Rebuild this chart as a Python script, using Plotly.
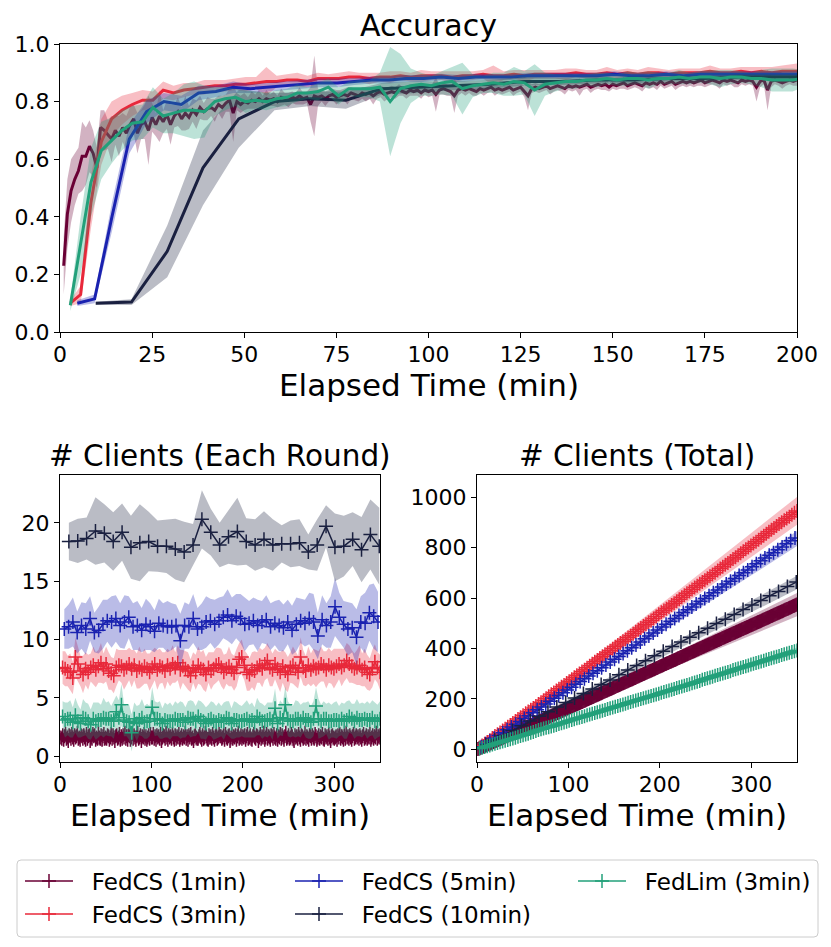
"""Accuracy and client counts over elapsed time for FedCS / FedLim."""

from itertools import accumulate

import plotly.graph_objects as go

FONT = "DejaVu Sans"
W, H = 831, 947
PAGE_PAD = 8  # the browser puts the figure 8px in from the page corner

NAMES = ["FedCS (1min)", "FedCS (3min)", "FedCS (5min)", "FedCS (10min)", "FedLim (3min)"]
COLORS = ["#6a0035", "#e8283a", "#1a22b0", "#1a2040", "#22a07a"]

# round times (min) for each method
X_1MIN = list(range(1, 351))
X_3MIN = [round(2.8 * k, 1) for k in range(1, 126)]
X_5MIN = [round(4.7 * k, 1) for k in range(1, 75)]
X_10MIN = [round(9.7 * k, 1) for k in range(1, 37)]

# ---- accuracy (mean / std over runs) ----
ACC_1MIN = [
    0.23, 0.41, 0.49, 0.53, 0.56, 0.61, 0.61, 0.645, 0.62, 0.57,
    0.71, 0.70, 0.685, 0.67, 0.70, 0.68, 0.71, 0.69, 0.72, 0.74,
    0.69, 0.72, 0.73, 0.70, 0.745, 0.72, 0.75, 0.73, 0.755, 0.72,
    0.75, 0.765, 0.74, 0.76, 0.745, 0.77, 0.755, 0.78, 0.765, 0.775,
    0.78, 0.77, 0.79, 0.78, 0.795, 0.805, 0.76, 0.80, 0.79, 0.80,
    0.795, 0.805, 0.80, 0.81, 0.80, 0.81, 0.805, 0.81, 0.80, 0.815,
    0.81, 0.805, 0.815, 0.81, 0.82, 0.81, 0.815, 0.79, 0.82, 0.815,
    0.82, 0.81, 0.82, 0.825, 0.815, 0.82, 0.825, 0.82, 0.83, 0.825,
    0.82, 0.83, 0.825, 0.83, 0.82, 0.83, 0.835, 0.825, 0.83, 0.835,
    0.83, 0.84, 0.835, 0.83, 0.84, 0.835, 0.84, 0.83, 0.84, 0.835,
    0.84, 0.825, 0.84, 0.845, 0.84, 0.835, 0.82, 0.84, 0.845, 0.84,
    0.845, 0.84, 0.835, 0.845, 0.84, 0.845, 0.85, 0.84, 0.845, 0.84,
    0.845, 0.85, 0.84, 0.845, 0.85, 0.835, 0.82, 0.845, 0.85, 0.845,
    0.85, 0.855, 0.845, 0.85, 0.855, 0.85, 0.845, 0.855, 0.85, 0.855,
    0.85, 0.855, 0.86, 0.85, 0.855, 0.86, 0.855, 0.86, 0.85, 0.86,
    0.855, 0.86, 0.865, 0.855, 0.86, 0.865, 0.86, 0.855, 0.865, 0.86,
    0.865, 0.86, 0.87, 0.86, 0.865, 0.87, 0.86, 0.865, 0.87, 0.865,
    0.87, 0.865, 0.87, 0.875, 0.865, 0.87, 0.875, 0.87, 0.865, 0.875,
    0.87, 0.875, 0.87, 0.865, 0.875, 0.87, 0.875, 0.87, 0.85, 0.87,
    0.875, 0.84, 0.87, 0.875, 0.87, 0.865, 0.87, 0.875, 0.87, 0.875,
]
ACC_1MIN_STD = [
    0.10, 0.12, 0.11, 0.09, 0.08, 0.12, 0.10, 0.09, 0.08, 0.07,
    0.06, 0.07, 0.05, 0.08, 0.05, 0.07, 0.05, 0.06, 0.06, 0.05,
    0.07, 0.05, 0.06, 0.12, 0.05, 0.04, 0.09, 0.04, 0.05, 0.07,
    0.04, 0.05, 0.04, 0.06, 0.04, 0.04, 0.05, 0.04, 0.03, 0.04,
    0.03, 0.04, 0.03, 0.04, 0.03, 0.04, 0.10, 0.03, 0.03, 0.03,
    0.02, 0.03, 0.025, 0.03, 0.02, 0.03, 0.02, 0.025, 0.02, 0.03,
    0.02, 0.025, 0.02, 0.02, 0.03, 0.02, 0.02, 0.06, 0.14, 0.03,
    0.02, 0.025, 0.02, 0.02, 0.025, 0.02, 0.02, 0.03, 0.02, 0.02,
    0.02, 0.02, 0.025, 0.02, 0.03, 0.02, 0.02, 0.025, 0.02, 0.02,
    0.02, 0.02, 0.015, 0.02, 0.02, 0.015, 0.02, 0.02, 0.015, 0.02,
    0.02, 0.06, 0.015, 0.02, 0.02, 0.015, 0.06, 0.02, 0.015, 0.02,
    0.015, 0.02, 0.015, 0.015, 0.02, 0.015, 0.015, 0.02, 0.015, 0.015,
    0.015, 0.015, 0.02, 0.015, 0.015, 0.02, 0.05, 0.015, 0.015, 0.015,
    0.015, 0.015, 0.02, 0.015, 0.015, 0.015, 0.02, 0.015, 0.015, 0.015,
    0.03, 0.015, 0.015, 0.02, 0.015, 0.015, 0.015, 0.02, 0.015, 0.015,
    0.015, 0.015, 0.02, 0.015, 0.015, 0.015, 0.015, 0.02, 0.015, 0.015,
    0.015, 0.02, 0.015, 0.015, 0.015, 0.015, 0.02, 0.015, 0.015, 0.015,
    0.015, 0.015, 0.015, 0.02, 0.015, 0.015, 0.015, 0.015, 0.02, 0.015,
    0.015, 0.015, 0.02, 0.015, 0.015, 0.015, 0.015, 0.015, 0.05, 0.02,
    0.015, 0.07, 0.02, 0.015, 0.015, 0.02, 0.015, 0.015, 0.015, 0.02,
]
ACC_3MIN = [
    0.10, 0.13, 0.45, 0.66, 0.74, 0.77, 0.79, 0.805, 0.805, 0.84,
    0.83, 0.84, 0.845, 0.85, 0.855, 0.855, 0.86, 0.86, 0.865, 0.87,
    0.87, 0.875, 0.875, 0.87, 0.88, 0.88, 0.88, 0.885, 0.885, 0.88,
    0.885, 0.885, 0.89, 0.885, 0.89, 0.89, 0.89, 0.885, 0.89, 0.89,
    0.895, 0.89, 0.89, 0.895, 0.89, 0.895, 0.895, 0.895, 0.895, 0.90,
    0.895, 0.895, 0.90, 0.895, 0.90, 0.895, 0.90, 0.90, 0.895, 0.90,
    0.90, 0.90, 0.905, 0.90, 0.90, 0.905, 0.90, 0.905, 0.90, 0.905,
    0.905, 0.905,
]
ACC_3MIN_STD = [
    0.01, 0.03, 0.09, 0.08, 0.06, 0.05, 0.04, 0.035, 0.03, 0.03,
    0.025, 0.025, 0.02, 0.025, 0.02, 0.02, 0.02, 0.025, 0.02, 0.05,
    0.02, 0.02, 0.025, 0.02, 0.02, 0.015, 0.02, 0.02, 0.015, 0.02,
    0.015, 0.02, 0.015, 0.015, 0.02, 0.015, 0.015, 0.02, 0.015, 0.015,
    0.015, 0.035, 0.015, 0.015, 0.02, 0.015, 0.015, 0.015, 0.02, 0.015,
    0.015, 0.015, 0.02, 0.015, 0.015, 0.015, 0.02, 0.015, 0.015, 0.015,
    0.015, 0.015, 0.02, 0.015, 0.015, 0.015, 0.02, 0.015, 0.02, 0.02,
    0.025, 0.03,
]
ACC_5MIN = [
    0.10, 0.115, 0.40, 0.67, 0.765, 0.80, 0.79, 0.83, 0.835, 0.85,
    0.845, 0.85, 0.855, 0.86, 0.865, 0.865, 0.87, 0.875, 0.875, 0.88,
    0.88, 0.885, 0.88, 0.885, 0.885, 0.885, 0.89, 0.89, 0.89, 0.89,
    0.89, 0.895, 0.89, 0.89, 0.895, 0.89, 0.895, 0.895, 0.895, 0.895,
    0.895, 0.895, 0.895, 0.895,
]
ACC_5MIN_STD = [
    0.01, 0.015, 0.05, 0.05, 0.04, 0.03, 0.03, 0.025, 0.02, 0.02,
    0.015, 0.015, 0.015, 0.015, 0.015, 0.015, 0.012, 0.012, 0.012, 0.012,
    0.012, 0.012, 0.012, 0.012, 0.01, 0.01, 0.01, 0.01, 0.01, 0.01,
    0.01, 0.01, 0.01, 0.01, 0.01, 0.01, 0.01, 0.01, 0.01, 0.01,
    0.01, 0.01, 0.01, 0.01,
]
ACC_10MIN = [
    0.10, 0.104, 0.28, 0.57, 0.74, 0.80, 0.81, 0.805, 0.845, 0.85,
    0.855, 0.86, 0.87, 0.87, 0.875, 0.875, 0.88, 0.88, 0.885, 0.885,
    0.885,
]
ACC_10MIN_STD = [
    0.005, 0.01, 0.09, 0.13, 0.10, 0.03, 0.025, 0.03, 0.02, 0.02,
    0.015, 0.015, 0.015, 0.012, 0.012, 0.012, 0.01, 0.01, 0.01, 0.01,
    0.01,
]
ACC_FEDLIM = [
    0.093, 0.30, 0.52, 0.63, 0.665, 0.70, 0.725, 0.73, 0.78, 0.75,
    0.76, 0.77, 0.77, 0.765, 0.80, 0.81, 0.815, 0.80, 0.805, 0.80,
    0.81, 0.815, 0.83, 0.83, 0.835, 0.85, 0.82, 0.845, 0.845, 0.845,
    0.85, 0.80, 0.845, 0.855, 0.86, 0.855, 0.865, 0.87, 0.845, 0.855,
    0.86, 0.865, 0.86, 0.87, 0.865, 0.84, 0.86, 0.865, 0.87, 0.87,
    0.875, 0.875, 0.88, 0.875, 0.88, 0.88, 0.875, 0.88, 0.88, 0.885,
    0.88, 0.885, 0.885, 0.88, 0.885, 0.885, 0.88, 0.88, 0.875, 0.875,
    0.875, 0.88,
]
ACC_FEDLIM_STD = [
    0.02, 0.10, 0.12, 0.10, 0.08, 0.07, 0.06, 0.06, 0.07, 0.06,
    0.07, 0.09, 0.10, 0.09, 0.05, 0.04, 0.03, 0.04, 0.03, 0.03,
    0.03, 0.03, 0.03, 0.02, 0.03, 0.03, 0.03, 0.025, 0.03, 0.03,
    0.05, 0.19, 0.12, 0.06, 0.04, 0.035, 0.04, 0.05, 0.09, 0.04,
    0.03, 0.035, 0.04, 0.05, 0.04, 0.09, 0.04, 0.03, 0.025, 0.025,
    0.02, 0.025, 0.02, 0.02, 0.025, 0.02, 0.03, 0.02, 0.02, 0.025,
    0.02, 0.02, 0.025, 0.03, 0.025, 0.02, 0.02, 0.03, 0.04, 0.04,
    0.04, 0.03,
]

# ---- clients selected in each round ----
ROUND_1MIN = [
    1.6, 1.5, 1.8, 1.4, 1.7, 1.9, 1.5, 1.6, 1.3, 1.8, 1.7, 1.5, 1.9, 1.6, 1.4, 1.8, 1.6, 1.7, 2.0, 1.5, 1.6, 1.4, 1.8, 1.7, 1.5,
    1.8, 1.6, 1.4, 1.9, 1.5, 1.7, 1.8, 1.3, 1.6, 1.5, 1.9, 1.7, 1.8, 1.4, 1.6, 1.5, 2.0, 1.6, 1.5, 1.8, 1.4, 1.7, 1.9, 1.5, 1.6,
    1.5, 1.8, 1.7, 1.4, 1.6, 1.9, 1.5, 1.8, 1.6, 1.3, 1.7, 1.8, 1.5, 1.6, 1.9, 1.4, 1.7, 1.5, 1.8, 1.6, 2.0, 1.5, 1.7, 1.4, 1.8,
    1.7, 1.4, 1.6, 1.9, 1.5, 1.8, 1.6, 1.4, 1.7, 2.0, 1.5, 1.6, 1.8, 1.3, 1.7, 1.6, 1.9, 1.5, 1.7, 1.4, 1.6, 1.8, 1.5, 1.9, 1.6,
    1.6, 1.9, 1.5, 1.7, 1.4, 1.8, 1.6, 1.7, 1.5, 1.9, 1.3, 1.6, 1.8, 1.7, 1.5, 2.0, 1.6, 1.4, 1.8, 1.6, 1.7, 1.5, 1.9, 1.6, 1.4,
    1.8, 1.5, 1.7, 1.6, 1.9, 1.4, 1.6, 1.8, 1.5, 1.7, 1.6, 2.0, 1.5, 1.7, 1.4, 1.8, 1.6, 1.9, 1.5, 1.6, 1.3, 1.7, 1.8, 1.6, 1.5,
    1.5, 1.7, 1.9, 1.6, 1.4, 1.8, 1.5, 1.6, 2.0, 1.7, 1.5, 1.4, 1.8, 1.6, 1.7, 1.5, 1.9, 1.6, 1.4, 1.7, 1.8, 1.5, 1.6, 1.9, 1.7,
    1.7, 1.5, 1.6, 1.8, 1.4, 1.9, 1.6, 1.5, 1.7, 1.8, 1.3, 1.6, 1.9, 1.5, 1.7, 1.6, 1.8, 1.4, 1.7, 2.0, 1.5, 1.6, 1.8, 1.5, 1.7,
    1.6, 1.8, 1.4, 1.7, 1.9, 1.5, 1.6, 1.8, 1.5, 1.4, 1.7, 1.9, 1.6, 1.5, 1.8, 1.7, 1.3, 1.6, 1.9, 1.5, 1.7, 1.6, 2.0, 1.4, 1.6,
    1.9, 1.5, 1.7, 1.6, 1.4, 1.8, 1.7, 1.5, 1.9, 1.6, 1.5, 1.8, 1.4, 1.7, 1.6, 1.9, 1.5, 1.8, 1.6, 1.4, 1.7, 2.0, 1.5, 1.6, 1.8,
    1.5, 1.6, 1.9, 1.7, 1.5, 1.3, 1.8, 1.6, 1.7, 1.5, 1.9, 1.6, 1.4, 1.8, 1.7, 1.5, 1.6, 2.0, 1.5, 1.7, 1.6, 1.4, 1.8, 1.7, 1.5,
    1.8, 1.6, 1.5, 1.9, 1.7, 1.4, 1.6, 1.8, 1.5, 1.7, 1.6, 1.9, 1.5, 1.4, 1.8, 1.6, 1.7, 1.5, 1.9, 1.6, 1.3, 1.7, 1.8, 1.6, 1.5,
    1.6, 1.7, 1.4, 1.8, 1.6, 1.9, 1.5, 1.7, 1.6, 1.4, 1.8, 1.5, 2.0, 1.6, 1.7, 1.5, 1.8, 1.6, 1.4, 1.7, 1.9, 1.5, 1.6, 1.8, 1.6,
    1.7, 1.5, 1.8, 1.6, 1.4, 1.7, 1.9, 1.5, 1.6, 1.8, 1.5, 1.7, 1.6, 1.9, 1.4, 1.6, 1.8, 1.5, 1.7, 1.6, 2.0, 1.5, 1.7, 1.6, 1.8,
]
# std of the 1min series, given at every 5th round
ROUND_1MIN_STD = [
    0.50, 0.45, 0.55, 0.50, 0.48, 0.55, 0.52, 0.45, 0.50, 0.58,
    0.47, 0.52, 0.50, 0.55, 0.46, 0.50, 0.53, 0.48, 0.56, 0.50,
    0.45, 0.52, 0.50, 0.55, 0.48, 0.52, 0.47, 0.55, 0.50, 0.46,
    0.53, 0.50, 0.57, 0.48, 0.50, 0.52, 0.45, 0.55, 0.50, 0.48,
    0.52, 0.56, 0.47, 0.50, 0.53, 0.48, 0.55, 0.50, 0.46, 0.52,
    0.50, 0.55, 0.48, 0.52, 0.47, 0.50, 0.56, 0.49, 0.52, 0.47,
    0.55, 0.50, 0.48, 0.53, 0.50, 0.46, 0.55, 0.50, 0.52, 0.48,
    0.50,
]
ROUND_3MIN = [
    7.6, 7.5, 7.3, 7.2, 6.7, 8.5, 7.9, 7.3, 7.0, 7.5,
    7.2, 7.6, 7.8, 7.4, 7.7, 8.0, 7.5, 7.9, 7.3, 7.1,
    6.9, 7.6, 7.8, 7.7, 7.4, 7.6, 7.9, 7.5, 7.8, 7.3,
    7.6, 7.4, 7.7, 7.5, 7.2, 7.6, 7.9, 7.4, 7.7, 7.6,
    7.3, 7.8, 7.5, 7.9, 7.6, 8.0, 7.4, 7.7, 7.5, 7.3,
    6.9, 7.6, 7.2, 7.8, 7.5, 7.4, 7.0, 7.6, 7.3, 7.5,
    7.8, 7.9, 7.6, 7.2, 7.5, 7.7, 7.4, 7.1, 7.6, 8.3,
    8.5, 7.8, 7.2, 7.0, 7.4, 7.3, 7.6, 7.8, 7.5, 7.9,
    8.2, 7.6, 7.4, 7.9, 7.5, 7.2, 7.7, 7.3, 7.0, 7.6,
    7.8, 7.5, 7.2, 8.5, 7.6, 7.3, 7.8, 7.4, 7.7, 7.5,
    7.6, 7.9, 7.7, 7.4, 7.8, 7.6, 7.5, 7.7, 7.9, 7.6,
    7.8, 8.2, 7.9, 7.7, 7.5, 7.6, 7.8, 7.4, 7.6, 7.2,
    7.0, 7.5, 8.1, 7.6, 7.2,
]
ROUND_3MIN_STD = [
    1.4, 1.5, 1.3, 1.6, 1.4, 1.7, 1.5, 1.3, 1.6, 1.4,
    1.5, 1.2, 1.6, 1.5, 1.4, 1.7, 1.3, 1.5, 1.6, 1.4,
    1.5, 1.6, 1.3, 1.4, 1.7, 1.5, 1.4, 1.6, 1.3, 1.5,
    1.8, 1.4, 1.5, 1.3, 1.6, 1.5, 1.4, 1.7, 1.5, 1.3,
    1.6, 1.4, 1.5, 1.6, 1.3, 1.5, 1.7, 1.4, 1.5, 1.6,
    1.4, 1.3, 1.5, 1.6, 1.4, 1.7, 1.5, 1.3, 1.6, 1.4,
    1.5, 1.4, 1.6, 1.5, 1.3, 1.7, 1.4, 1.5, 1.6, 1.4,
    1.5, 1.3, 1.6, 1.4, 1.5, 1.7, 1.3, 1.5, 1.6, 1.4,
    1.5, 1.6, 1.4, 1.3, 1.5, 1.7, 1.4, 1.6, 1.5, 1.3,
    1.6, 1.5, 1.4, 1.7, 1.5, 1.3, 1.6, 1.4, 1.5, 1.6,
    1.4, 1.5, 1.3, 1.6, 1.5, 1.4, 1.7, 1.5, 1.3, 1.6,
    1.4, 1.5, 1.6, 1.4, 1.3, 1.5, 1.7, 1.4, 1.6, 1.5,
    1.4, 1.6, 1.5, 1.3, 1.5,
]
ROUND_5MIN = [
    10.9, 11.1, 11.5, 10.6, 11.2, 10.9, 11.8, 10.6, 10.8, 11.3,
    11.6, 11.5, 11.8, 11.2, 11.5, 11.9, 11.1, 11.2, 10.8, 11.3,
    11.1, 10.7, 11.4, 11.2, 11.1, 11.1, 11.2, 9.9, 11.2, 11.1,
    11.8, 10.9, 11.1, 11.5, 11.6, 11.3, 11.6, 11.9, 12.1, 11.6,
    12.0, 11.8, 11.3, 11.4, 11.6, 11.2, 11.5, 11.7, 11.1, 11.4,
    11.2, 11.0, 11.5, 10.8, 11.3, 11.6, 11.4, 11.8, 11.5, 10.3,
    11.7, 11.2, 11.5, 12.8, 11.9, 11.3, 10.9, 11.0, 10.2, 11.5,
    11.4, 12.3, 12.0, 11.5,
]
ROUND_5MIN_STD = [
    1.7, 1.9, 2.1, 1.8, 2.0, 2.2, 1.9, 1.7, 2.0, 2.1,
    1.8, 2.2, 2.0, 1.9, 2.3, 1.8, 2.0, 2.1, 1.9, 2.2,
    2.0, 1.8, 2.1, 1.9, 2.2, 2.0, 1.8, 2.3, 2.0, 1.9,
    2.1, 1.8, 2.0, 2.2, 1.9, 2.1, 2.0, 1.8, 2.2, 2.0,
    1.9, 2.1, 2.3, 1.9, 2.0, 2.2, 1.8, 2.1, 2.0, 1.9,
    2.2, 2.0, 1.9, 2.1, 2.3, 1.9, 2.0, 2.2, 2.4, 2.0,
    2.1, 1.9, 2.2, 2.5, 2.1, 2.0, 2.3, 2.1, 2.4, 2.2,
    2.6, 2.4, 2.8, 2.6,
]
ROUND_10MIN = [
    18.4, 18.45, 18.65, 19.3, 19.1, 18.4, 19.2, 17.9, 18.3, 18.4,
    18.0, 18.0, 17.75, 17.5, 18.1, 20.3, 19.2, 18.1, 18.8, 19.25,
    18.4, 18.1, 18.6, 18.1, 18.2, 18.2, 18.3, 17.5, 18.1, 19.7,
    17.9, 18.0, 18.6, 17.7, 19.0, 18.0,
]
ROUND_10MIN_STD = [
    1.6, 1.9, 1.8, 2.9, 2.5, 2.5, 2.45, 2.7, 3.3, 2.55,
    2.2, 2.3, 2.6, 2.6, 1.8, 2.5, 2.0, 1.9, 2.3, 2.9,
    2.0, 2.2, 2.4, 2.2, 1.6, 2.0, 2.0, 1.5, 2.2, 1.8,
    2.9, 2.6, 2.3, 2.8, 3.0, 3.3,
]
ROUND_FEDLIM = [
    3.4, 3.1, 3.2, 3.2, 2.9, 3.5, 3.0, 2.8, 3.3, 3.2,
    3.0, 2.7, 3.2, 3.0, 3.1, 3.1, 3.3, 3.2, 3.2, 3.0,
    3.1, 3.8, 3.3, 4.4, 3.1, 3.0, 2.9, 2.0, 3.2, 2.8,
    3.1, 3.3, 2.9, 3.0, 3.0, 4.2, 3.2, 3.2, 3.1, 2.8,
    3.1, 3.0, 3.0, 3.0, 3.2, 3.1, 3.1, 3.1, 2.9, 3.3,
    3.2, 3.2, 3.0, 3.4, 3.1, 3.0, 2.8, 3.1, 3.2, 3.0,
    2.9, 3.1, 3.0, 3.0, 3.3, 3.2, 2.8, 3.1, 3.1, 3.0,
    3.0, 3.1, 3.2, 3.0, 3.1, 2.9, 3.4, 3.2, 3.0, 3.0,
    3.1, 3.2, 3.0, 4.1, 2.8, 3.3, 3.1, 4.4, 3.2, 3.0,
    3.0, 3.2, 3.2, 3.0, 3.3, 3.1, 3.1, 2.9, 3.2, 4.3,
    3.2, 3.0, 3.2, 3.2, 3.0, 3.0, 3.1, 3.1, 3.0, 3.2,
    3.0, 3.1, 3.4, 3.2, 3.0, 3.3, 3.1, 3.1, 3.2, 3.1,
    3.1, 3.3, 3.0, 3.0, 3.2,
]
ROUND_FEDLIM_STD = [
    1.3, 1.5, 1.4, 1.6, 1.3, 1.5, 1.4, 1.2, 1.6, 1.4,
    1.5, 1.3, 1.4, 1.6, 1.5, 1.3, 1.7, 1.4, 1.5, 1.3,
    1.6, 1.4, 1.5, 1.8, 1.4, 1.3, 1.5, 1.6, 1.4, 1.5,
    1.3, 1.6, 1.4, 1.5, 1.3, 1.7, 1.5, 1.4, 1.6, 1.3,
    1.5, 1.4, 1.6, 1.3, 1.5, 1.4, 1.6, 1.5, 1.3, 1.4,
    1.6, 1.5, 1.3, 1.4, 1.6, 1.5, 1.4, 1.3, 1.5, 1.6,
    1.4, 1.5, 1.3, 1.6, 1.4, 1.5, 1.3, 1.6, 1.5, 1.4,
    1.3, 1.5, 1.6, 1.4, 1.5, 1.3, 1.6, 1.4, 1.5, 1.3,
    1.5, 1.4, 1.6, 1.7, 1.3, 1.5, 1.4, 1.6, 1.5, 1.4,
    1.3, 1.6, 1.5, 1.4, 1.3, 1.5, 1.6, 1.4, 1.5, 1.6,
    1.7, 1.4, 1.5, 1.3, 1.6, 1.4, 1.5, 1.6, 1.3, 1.4,
    1.5, 1.6, 1.4, 1.3, 1.5, 1.6, 1.4, 1.5, 1.3, 1.6,
    1.4, 1.5, 1.6, 1.4, 1.5,
]

# ---- band of the cumulative count, read at these times ----
TOTAL_BAND_X = [0, 50, 100, 150, 200, 250, 300, 350]
TOTAL_LOW = [
    [-5, 74, 151, 227, 303, 379, 454, 528],
    [-5, 125, 253, 380, 509, 636, 763, 891],
    [-4, 112, 229, 344, 460, 575, 691, 806],
    [-4, 89, 180, 272, 363, 454, 544, 635],
    [-3, 52, 107, 161, 216, 270, 324, 378],
]
TOTAL_HIGH = [
    [5, 90, 177, 265, 353, 441, 530, 620],
    [5, 145, 287, 430, 573, 716, 859, 1001],
    [4, 126, 249, 372, 496, 619, 743, 866],
    [4, 101, 198, 296, 393, 492, 590, 689],
    [3, 60, 117, 175, 232, 290, 346, 404],
]


def rgba(hex_color: str, alpha: float) -> str:
    r, g, b = (int(hex_color[i:i + 2], 16) for i in (1, 3, 5))
    return f"rgba({r},{g},{b},{alpha})"


def band_trace(x, lower, upper, color, xa, ya) -> go.Scatter:
    x = list(x)
    return go.Scatter(
        x=x + x[::-1], y=list(upper) + list(lower)[::-1],
        mode="lines", fill="toself", fillcolor=rgba(color, 0.3),
        line={"width": 0}, hoverinfo="skip", showlegend=False,
        xaxis=xa, yaxis=ya,
    )


def mean_band(x, mean, std, color, xa, ya) -> go.Scatter:
    x = list(x)[: len(mean)]
    lower = [m - s for m, s in zip(mean, std)]
    upper = [m + s for m, s in zip(mean, std)]
    return band_trace(x, lower, upper, color, xa, ya)


def px_x(x: float) -> float:
    """Screen pixel (from the left) to paper fraction."""
    return (x - PAGE_PAD) / W


def px_y(y: float) -> float:
    """Screen pixel (from the top) to paper fraction."""
    return 1 - (y - PAGE_PAD) / H


fig = go.Figure()

# accuracy
acc = [
    (X_1MIN, ACC_1MIN, ACC_1MIN_STD),
    (X_3MIN, ACC_3MIN, ACC_3MIN_STD),
    (X_5MIN, ACC_5MIN, ACC_5MIN_STD),
    (X_10MIN, ACC_10MIN, ACC_10MIN_STD),
    (X_3MIN, ACC_FEDLIM, ACC_FEDLIM_STD),
]
for (x, m, s), c in zip(acc, COLORS):
    fig.add_trace(mean_band(x, m, s, c, "x", "y"))
    fig.add_trace(go.Scatter(x=x[: len(m)], y=m, mode="lines", line={"color": c, "width": 3},
                             showlegend=False, xaxis="x", yaxis="y"))

# clients per round and total
marker_kw = {"symbol": "cross-thin", "size": 10}
rounds = [
    (X_1MIN, ROUND_1MIN, ROUND_1MIN_STD),
    (X_3MIN, ROUND_3MIN, ROUND_3MIN_STD),
    (X_5MIN, ROUND_5MIN, ROUND_5MIN_STD),
    (X_10MIN, ROUND_10MIN, ROUND_10MIN_STD),
    (X_3MIN, ROUND_FEDLIM, ROUND_FEDLIM_STD),
]
for i, ((x, m, s), c) in enumerate(zip(rounds, COLORS)):
    x = x[: len(m)]
    if i == 0:
        idx = list(range(0, len(m), 5)) + [len(m) - 1]
        fig.add_trace(mean_band([x[j] for j in idx], [m[j] for j in idx], s, c, "x2", "y2"))
    else:
        fig.add_trace(mean_band(x, m, s, c, "x2", "y2"))
    fig.add_trace(go.Scatter(
        x=x, y=m, mode="lines+markers", line={"color": c, "width": 1.5},
        marker={**marker_kw, "color": c, "line": {"color": c, "width": 1.5}},
        showlegend=False, xaxis="x2", yaxis="y2",
    ))

for i, ((x, m, _), c) in enumerate(zip(rounds, COLORS)):
    x = x[: len(m)]
    fig.add_trace(band_trace(TOTAL_BAND_X, TOTAL_LOW[i], TOTAL_HIGH[i], c, "x3", "y3"))
    fig.add_trace(go.Scatter(
        x=x, y=list(accumulate(m)), mode="lines+markers", line={"color": c, "width": 1.5},
        marker={**marker_kw, "color": c, "line": {"color": c, "width": 1.5}},
        showlegend=False, xaxis="x3", yaxis="y3",
    ))

# legend entries: matplotlib fills columns first, so place each entry by hand
LEGEND_POS = [(25, 881), (25, 914), (295, 881), (295, 914), (578, 881)]
layout_legends = {}
for i, (name, c) in enumerate(zip(NAMES, COLORS)):
    key = "legend" if i == 0 else f"legend{i + 1}"
    fig.add_trace(go.Scatter(
        x=[None], y=[None], name="\u2002\u200a" + name, mode="lines+markers",
        line={"color": c, "width": 1.5},
        marker={**marker_kw, "color": c, "line": {"color": c, "width": 1.5}},
        legend=key, xaxis="x3", yaxis="y3",
    ))
    lx, ly = LEGEND_POS[i]
    layout_legends[key] = dict(
        x=px_x(lx - 5), y=px_y(ly), xanchor="left", yanchor="middle",
        orientation="h", bgcolor="rgba(0,0,0,0)", borderwidth=0, itemwidth=48,
        font={"family": FONT, "size": 23, "color": "black"},
    )

axis = dict(
    showline=True, linecolor="black", linewidth=1.3, mirror=True,
    ticks="outside", ticklen=5, tickwidth=1.3, tickcolor="black",
    showgrid=False, zeroline=False, automargin=False,
    tickfont={"family": FONT, "size": 22, "color": "black"},
)
xaxis_style = dict(axis, ticklabelstandoff=-3)

annotations = []
for text, x, y, size in [
    ("Accuracy", 428.5, 25.5, 30),
    ("Elapsed Time (min)", 428.5, 385, 31),
    ("# Clients (Each Round)", 220, 456, 29.5),
    ("# Clients (Total)", 637, 456, 29.5),
    ("Elapsed Time (min)", 220, 815, 31),
    ("Elapsed Time (min)", 637, 815, 31),
]:
    annotations.append(dict(
        text=text, x=px_x(x), y=px_y(y), xref="paper", yref="paper",
        xanchor="center", yanchor="middle", showarrow=False, borderpad=0,
        font={"family": FONT, "size": size, "color": "black"},
    ))

# rounded legend frame
x0, y0, x1, y1, r = 17, 860, 818, 937, 4
frame = (
    f"M {px_x(x0 + r)},{px_y(y0)} L {px_x(x1 - r)},{px_y(y0)} "
    f"Q {px_x(x1)},{px_y(y0)} {px_x(x1)},{px_y(y0 + r)} L {px_x(x1)},{px_y(y1 - r)} "
    f"Q {px_x(x1)},{px_y(y1)} {px_x(x1 - r)},{px_y(y1)} L {px_x(x0 + r)},{px_y(y1)} "
    f"Q {px_x(x0)},{px_y(y1)} {px_x(x0)},{px_y(y1 - r)} L {px_x(x0)},{px_y(y0 + r)} "
    f"Q {px_x(x0)},{px_y(y0)} {px_x(x0 + r)},{px_y(y0)} Z"
)

fig.update_layout(
    width=W, height=H,
    margin={"l": 0, "r": 0, "t": 0, "b": 0, "pad": 0, "autoexpand": False},
    paper_bgcolor="white", plot_bgcolor="white",
    font={"family": FONT, "color": "black"},
    xaxis=dict(xaxis_style, domain=[px_x(60), px_x(797)], range=[0, 200], tickvals=list(range(0, 201, 25)),
               anchor="y"),
    yaxis=dict(axis, domain=[px_y(332), px_y(44)], range=[0, 1], tickvals=[0, 0.2, 0.4, 0.6, 0.8, 1.0],
               tickformat=".1f", anchor="x"),
    xaxis2=dict(xaxis_style, domain=[px_x(60), px_x(380)], range=[0, 350], tickvals=[0, 100, 200, 300],
                anchor="y2"),
    yaxis2=dict(axis, domain=[px_y(762), px_y(475)], range=[-0.5, 24.1], tickvals=[0, 5, 10, 15, 20], anchor="x2"),
    xaxis3=dict(xaxis_style, domain=[px_x(477), px_x(797)], range=[0, 350], tickvals=[0, 100, 200, 300],
                anchor="y3"),
    yaxis3=dict(axis, domain=[px_y(762), px_y(475)], range=[-50, 1088], tickvals=list(range(0, 1001, 200)),
                anchor="x3"),
    annotations=annotations,
    shapes=[dict(type="path", path=frame, xref="paper", yref="paper",
                 line={"color": "#cccccc", "width": 1}, layer="below")],
    **layout_legends,
)

fig.write_html("out.html")
